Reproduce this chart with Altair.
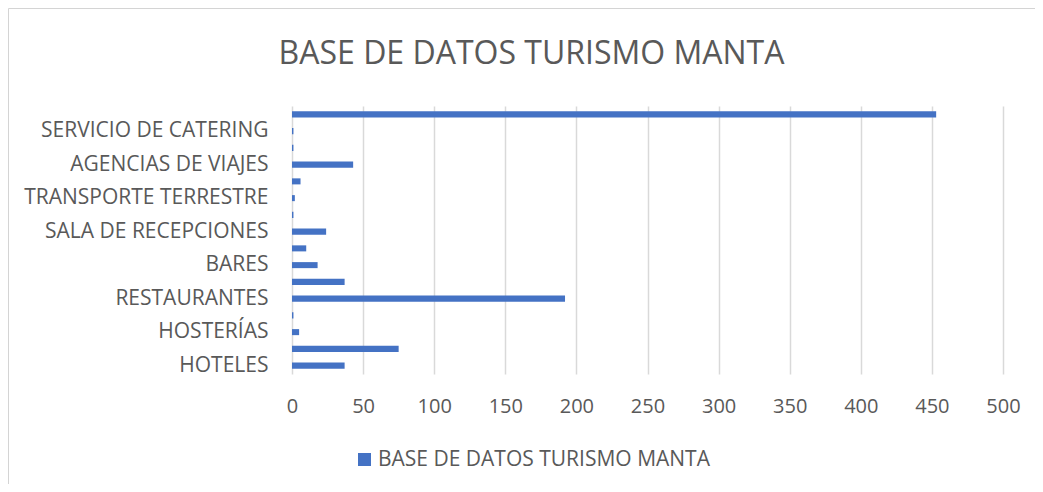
import altair as alt
import pandas as pd

categories = [
    "HOTELES", "HOSTALES", "HOSTERÍAS", "PENSIONES", "RESTAURANTES",
    "CAFETERÍAS", "BARES", "DISCOTECAS", "SALA DE RECEPCIONES",
    "FUENTES DE SODA", "TRANSPORTE TERRESTRE", "OPERADORAS DE TURISMO",
    "AGENCIAS DE VIAJES", "CENTROS DE TURISMO COMUNITARIO",
    "SERVICIO DE CATERING", "TOTAL",
]
values = [37, 75, 5, 1, 192, 37, 18, 10, 24, 1, 2, 6, 43, 1, 1, 453]
shown_labels = [
    "HOTELES", "HOSTERÍAS", "RESTAURANTES", "BARES", "SALA DE RECEPCIONES",
    "TRANSPORTE TERRESTRE", "AGENCIAS DE VIAJES", "SERVICIO DE CATERING",
]
x_ticks = [0, 50, 100, 150, 200, 250, 300, 350, 400, 450, 500]
series_name = "BASE DE DATOS TURISMO MANTA"
title_text = "BASE DE DATOS TURISMO MANTA"

FONT = "Open Sans"
GREY = "#595959"

df = pd.DataFrame({"cat": categories, "val": values, "series": series_name})

label_expr = (
    "indexof([" + ",".join("'" + s + "'" for s in shown_labels) + "], datum.value) >= 0 ? datum.value : ''"
)

bars = alt.Chart(df).mark_bar(color="#4472C4").encode(
    x=alt.X(
        "val:Q",
        scale=alt.Scale(domain=[0, 500], nice=False),
        axis=alt.Axis(
            values=x_ticks, title=None, domain=False, ticks=False,
            grid=True, gridColor="#d9d9d9", gridWidth=1.5,
            labelFont=FONT, labelFontSize=20, labelColor=GREY,
            labelPadding=22, labelFlush=False,
        ),
    ),
    y=alt.Y(
        "cat:N",
        sort=list(reversed(categories)),
        scale=alt.Scale(paddingInner=0.64, paddingOuter=0.32),
        axis=alt.Axis(
            title=None, domain=False, ticks=False, grid=False,
            labelExpr=label_expr, labelOverlap=False,
            labelFont=FONT, labelFontSize=21, labelColor=GREY,
            labelPadding=24, labelLimit=400,
        ),
    ),
    color=alt.Color(
        "series:N",
        scale=alt.Scale(range=["#4472C4"]),
        legend=alt.Legend(
            title=None, orient="none", legendX=62, legendY=343,
            symbolType="square", symbolSize=169, symbolStrokeWidth=0,
            labelFont=FONT, labelFontSize=21, labelColor=GREY,
            labelOffset=3, padding=0, labelLimit=600,
        ),
    ),
)

border = alt.Chart(pd.DataFrame({"a": [0]})).mark_rect(
    fill=None, stroke="#d4d4d4", strokeWidth=1
).encode(
    x=alt.value(-283.5), x2=alt.value(900), y=alt.value(-97.5), y2=alt.value(600)
)

chart = alt.layer(border, bars).properties(
    width=711,
    height=268,
    title=alt.TitleParams(
        text=title_text, font=FONT, fontSize=32, fontWeight="normal",
        color=GREY, anchor="middle", frame="group", dx=-116, offset=-63,
    ),
    autosize=alt.AutoSizeParams(type="none"),
    padding={"left": 284, "top": 98, "right": 32, "bottom": 110},
).configure_view(stroke=None)

chart.save("out.html", embed_options={"renderer": "svg", "actions": False})
